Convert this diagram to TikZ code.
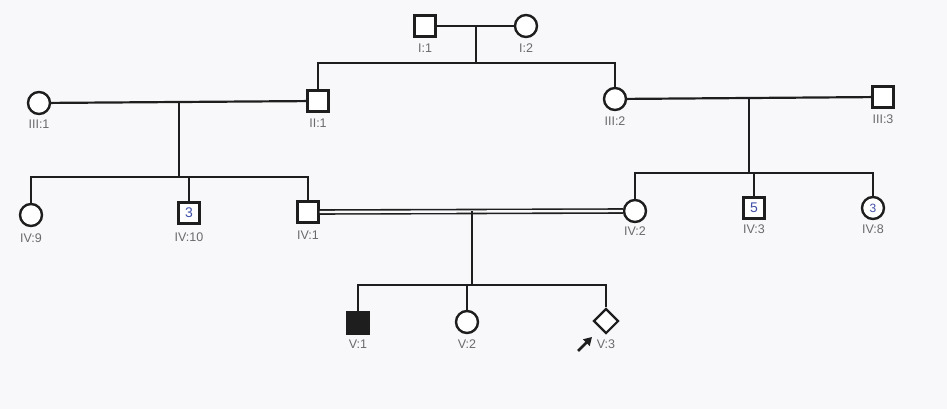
\documentclass[tikz,border=0pt]{standalone}
\usepackage{fontspec}
\setmainfont{Liberation Sans}
\usetikzlibrary{shapes.geometric,arrows.meta}
\definecolor{paper}{HTML}{F8F8FA}
\definecolor{lblgray}{HTML}{6A6A6E}
\definecolor{pen}{HTML}{3F4FA8}
\definecolor{ink}{HTML}{1E1E1E}
\begin{document}
\begin{tikzpicture}[x=1pt,y=-1pt, line width=2.2pt, color=ink,
  male/.style={draw=ink, rectangle, minimum size=21pt, inner sep=0pt, line width=2.4pt, fill=white},
  female/.style={draw=ink, circle, minimum size=22pt, inner sep=0pt, line width=2.4pt, fill=white},
  affmale/.style={male, fill=ink},
  unk/.style={draw=ink, diamond, minimum size=25pt, inner sep=0pt, line width=2.2pt, fill=white},
  lbl/.style={text=lblgray, font=\fontsize{12.5}{14}\selectfont, inner sep=0pt},
  cons/.style={double=paper, double distance=2.4pt, line width=1.6pt, draw=ink}
]
\fill[paper, draw=none] (0,0) rectangle (947,409);
\useasboundingbox (0,0) rectangle (947,409);

% Generation I
\node[male]   (I1) at (425,26) {};
\node[female] (I2) at (526,26) {};
\node[lbl] (lI1) at (425,48) {I:1};
\node[lbl] (lI2) at (526,48) {I:2};

% Generation II / III
\node[female] (III1) at (39,103) {};
\node[male]   (II1)  at (318,101) {};
\node[female] (III2) at (615,99) {};
\node[male]   (III3) at (883,97) {};
\node[lbl] (lIII1) at (39,124) {III:1};
\node[lbl] (lII1)  at (318,123) {II:1};
\node[lbl] (lIII2) at (615,121) {III:2};
\node[lbl] (lIII3) at (883,119) {III:3};

% Generation IV
\node[female] (IV9)  at (31,215) {};
\node[male]   (IV10) at (189,213) {\textcolor{pen}{\fontsize{14}{16}\selectfont 3}};
\node[male]   (IV1)  at (308,212) {};
\node[female] (IV2)  at (635,211) {};
\node[male]   (IV3)  at (754,208) {\textcolor{pen}{\fontsize{14}{16}\selectfont 5}};
\node[female] (IV8)  at (873,208) {\textcolor{pen}{\fontsize{12}{14}\selectfont 3}};
\node[lbl] (lIV9)  at (31,238) {IV:9};
\node[lbl] (lIV10) at (189,237) {IV:10};
\node[lbl] (lIV1)  at (308,235) {IV:1};
\node[lbl] (lIV2)  at (635,231) {IV:2};
\node[lbl] (lIV3)  at (754,229) {IV:3};
\node[lbl] (lIV8)  at (873,229) {IV:8};

% Generation V
\node[affmale] (V1) at (358,323) {};
\node[female]  (V2) at (467,322) {};
\node[unk]     (V3) at (606,321) {};
\node[lbl] (lV1) at (358,344) {V:1};
\node[lbl] (lV2) at (467,344) {V:2};
\node[lbl] (lV3) at (606,344) {V:3};

% coordinates
\coordinate (m1) at (476,26);  \coordinate (s1) at (476,63);
\coordinate (m2) at (179,102); \coordinate (s2) at (179,177);
\coordinate (m3) at (749,98);  \coordinate (s3) at (749,173);
\coordinate (m4) at (472,211); \coordinate (s4) at (472,285);
\coordinate (a0) at (578,351); \coordinate (a1) at (592,337);

% marriages
\draw (I1) -- (I2);
\draw (III1) -- (II1);
\draw (III2) -- (III3);
\draw[cons] (IV1.east) -- (IV2.west);

% descent and sibships
\draw (m1) -- (s1);
\draw (II1.north) |- (s1) -| (III2.north);

\draw (m2) -- (s2);
\draw (IV9.north) |- (s2) -| (IV1.north);
\draw (IV10.north) -- (IV10.north |- s2);

\draw (m3) -- (s3);
\draw (IV2.north) |- (s3) -| (IV8.north);
\draw (IV3.north) -- (IV3.north |- s3);

\draw (m4) -- (s4);
\draw (V1.north) |- (s4) -| (V3.north);
\draw (V2.north) -- (V2.north |- s4);

% proband arrow
\draw[line width=2.8pt, -{Triangle[length=8pt,width=9pt]}] (a0) -- (a1);
\end{tikzpicture}
\end{document}
